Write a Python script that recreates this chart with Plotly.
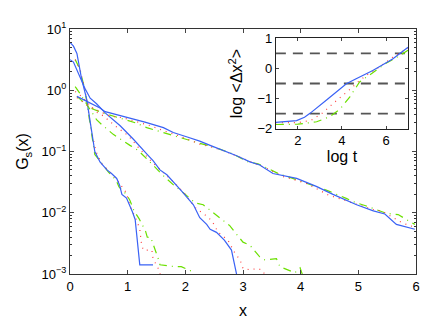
import numpy as np
import plotly.graph_objects as go

# main panel: three groups of curves, values read as log10(G_s)
# group 1 (narrowest)
g1_blue_x = [0, 0.06, 0.12, 0.2, 0.29, 0.36, 0.43, 0.52, 0.64, 0.72, 0.81, 0.86, 0.9, 0.98, 1.04, 1.08, 1.13, 1.21, 1.44]
g1_blue_lg = [0.78, 0.72, 0.6, 0.19, -0.15, -0.6, -1.0, -1.17, -1.3, -1.36, -1.44, -1.55, -1.7, -1.76, -1.88, -1.98, -2.11, -2.85, -2.85]
g1_red_x = [0.09, 0.17, 0.26, 0.32, 0.38, 0.45, 0.55, 0.72, 0.81, 0.98, 1.04, 1.16, 1.21, 1.24, 1.27, 1.42, 1.44, 1.53, 1.6]
g1_red_lg = [0.5, 0.35, 0.0, -0.32, -0.7, -1.0, -1.2, -1.36, -1.45, -1.68, -1.89, -2.13, -2.27, -2.51, -2.61, -2.61, -2.75, -2.91, -3.1]
g1_green_x = [0.09, 0.17, 0.26, 0.35, 0.38, 0.43, 0.6, 0.66, 0.8, 0.85, 0.98, 1.04, 1.11, 1.2, 1.31, 1.34, 1.4, 1.46, 1.53, 1.56, 1.82, 1.93, 2.1, 2.2]
g1_green_lg = [0.5, 0.35, 0.0, -0.58, -0.72, -1.05, -1.25, -1.33, -1.47, -1.58, -1.7, -1.8, -1.97, -2.1, -2.3, -2.4, -2.4, -2.55, -2.75, -2.85, -2.88, -2.88, -2.95, -3.1]

# group 2
g2_blue_x = [0.0, 0.06, 0.26, 0.35, 0.46, 0.61, 0.87, 1.1, 1.33, 1.44, 1.56, 1.68, 1.94, 2.14, 2.25, 2.37, 2.43, 2.54, 2.68, 2.8, 2.89, 2.95]
g2_blue_lg = [0.5, 0.46, 0.03, -0.13, -0.22, -0.37, -0.58, -0.8, -1.04, -1.15, -1.3, -1.38, -1.65, -1.87, -2.08, -2.19, -2.27, -2.32, -2.45, -2.61, -3.01, -3.3]
g2_red_x = [0.09, 0.2, 0.45, 0.58, 0.78, 0.9, 1.01, 1.2, 1.4, 1.6, 1.8, 2.0, 2.2, 2.3, 2.46, 2.57, 2.74, 2.86, 2.95, 3.0, 3.12, 3.26, 3.35, 3.45]
g2_red_lg = [-0.02, -0.1, -0.35, -0.42, -0.58, -0.66, -0.74, -0.95, -1.15, -1.33, -1.5, -1.7, -1.95, -2.0, -2.13, -2.32, -2.45, -2.66, -2.77, -2.91, -2.93, -2.91, -2.95, -3.2]
g2_green_x = [0.09, 0.17, 0.46, 0.55, 0.75, 0.87, 1.04, 1.18, 1.39, 1.47, 1.6, 1.8, 2.0, 2.17, 2.31, 2.48, 2.6, 2.77, 2.86, 3.0, 3.12, 3.29, 3.38, 3.58, 3.64, 3.9, 3.99, 4.1]
g2_green_lg = [0.06, -0.05, -0.48, -0.56, -0.72, -0.8, -0.9, -0.98, -1.17, -1.25, -1.38, -1.55, -1.7, -1.84, -1.87, -2.0, -2.08, -2.21, -2.32, -2.48, -2.53, -2.72, -2.77, -2.75, -2.88, -2.98, -2.9, -3.2]

# group 3 (widest)
g3_blue_x = [0.12, 0.35, 0.52, 0.61, 1.04, 1.3, 1.62, 1.79, 2.02, 2.25, 2.43, 2.6, 2.89, 3.12, 3.29, 3.52, 3.93, 4.27, 4.56, 4.97, 5.26, 5.46, 5.66, 5.98]
g3_blue_lg = [-0.1, -0.21, -0.29, -0.35, -0.45, -0.52, -0.61, -0.69, -0.76, -0.83, -0.9, -0.96, -1.07, -1.17, -1.22, -1.36, -1.44, -1.57, -1.7, -1.87, -1.97, -2.02, -2.19, -2.27]
g3_red_x = [0.12, 0.29, 0.46, 0.69, 0.92, 1.1, 1.4, 1.62, 1.91, 2.25, 2.43, 2.7, 3.0, 3.35, 3.7, 4.1, 4.48, 4.74, 4.99, 5.26, 5.4, 5.63, 5.75, 5.89, 6.0]
g3_red_lg = [-0.12, -0.24, -0.32, -0.42, -0.45, -0.5, -0.58, -0.66, -0.75, -0.88, -0.92, -1.0, -1.12, -1.25, -1.41, -1.52, -1.71, -1.79, -1.87, -1.95, -1.97, -2.1, -2.16, -2.21, -2.24]
g3_green_x = [0.12, 0.26, 0.35, 0.6, 0.95, 1.13, 1.33, 1.47, 1.68, 1.85, 2.02, 2.19, 2.5, 2.8, 3.09, 3.26, 3.44, 3.61, 3.9, 4.2, 4.5, 4.8, 4.97, 5.14, 5.31, 5.49, 5.69, 5.86, 5.98]
g3_green_lg = [-0.1, -0.21, -0.29, -0.38, -0.48, -0.53, -0.61, -0.65, -0.71, -0.76, -0.81, -0.85, -0.93, -1.03, -1.17, -1.2, -1.28, -1.36, -1.45, -1.55, -1.65, -1.77, -1.84, -1.89, -1.95, -2.01, -2.03, -2.13, -2.19]

# inset: log <dx^2> vs log t
in_blue_x = [1.0, 1.94, 2.3, 2.55, 3.3, 3.8, 4.2, 4.6, 5.0, 5.4, 6.3, 7.0]
in_blue_y = [-1.79, -1.73, -1.62, -1.49, -1.05, -0.75, -0.51, -0.36, -0.22, -0.07, 0.31, 0.7]
in_red_x = [1.0, 2.0, 2.6, 3.1, 3.65, 4.0, 4.4, 4.8, 5.2, 5.7, 6.3, 7.0]
in_red_y = [-1.8, -1.8, -1.72, -1.49, -1.13, -0.92, -0.67, -0.4, -0.18, 0.05, 0.37, 0.67]
in_green_x = [1.0, 2.0, 2.85, 3.45, 3.9, 4.35, 4.8, 5.4, 6.0, 6.6, 7.0]
in_green_y = [-1.86, -1.85, -1.77, -1.6, -1.36, -0.95, -0.45, -0.13, 0.17, 0.42, 0.6]
in_levels = [0.5, -0.5, -1.5]

BLUE = "#3a62f5"
RED = "#ff4040"
GREEN = "#6be000"
FONT = "Liberation Sans, Arial, sans-serif"

fig = go.Figure()

groups = [
    (g1_blue_x, g1_blue_lg, g1_red_x, g1_red_lg, g1_green_x, g1_green_lg),
    (g2_blue_x, g2_blue_lg, g2_red_x, g2_red_lg, g2_green_x, g2_green_lg),
    (g3_blue_x, g3_blue_lg, g3_red_x, g3_red_lg, g3_green_x, g3_green_lg),
]
for bx, blg, rx, rlg, gx, glg in groups:
    fig.add_trace(go.Scatter(x=gx, y=10 ** np.array(glg), mode="lines",
                             line=dict(color=GREEN, width=1.2, dash="8px,5px,1px,5px")))
    fig.add_trace(go.Scatter(x=rx, y=10 ** np.array(rlg), mode="lines",
                             line=dict(color=RED, width=1.2, dash="1px,5px")))
    fig.add_trace(go.Scatter(x=bx, y=10 ** np.array(blg), mode="lines",
                             line=dict(color=BLUE, width=1.2)))

# inset
for lv in in_levels:
    fig.add_trace(go.Scatter(x=[1, 7], y=[lv, lv], mode="lines", xaxis="x2", yaxis="y2",
                             line=dict(color="#555555", width=1.8, dash="10px,7px")))
fig.add_trace(go.Scatter(x=in_green_x, y=in_green_y, mode="lines", xaxis="x2", yaxis="y2",
                         line=dict(color=GREEN, width=1.2, dash="8px,5px,1px,5px")))
fig.add_trace(go.Scatter(x=in_red_x, y=in_red_y, mode="lines", xaxis="x2", yaxis="y2",
                         line=dict(color=RED, width=1.2, dash="1px,5px")))
fig.add_trace(go.Scatter(x=in_blue_x, y=in_blue_y, mode="lines", xaxis="x2", yaxis="y2",
                         line=dict(color=BLUE, width=1.2)))

ytick_vals = [1e-3, 1e-2, 1e-1, 1, 10]
ytick_text = ["10<sup>−3</sup>", "10<sup>−2</sup>", "10<sup>−1</sup>", "10<sup>0</sup>", "10<sup>1</sup>"]

fig.update_layout(
    width=436, height=329,
    margin=dict(l=62, r=28, t=17, b=63),
    paper_bgcolor="white", plot_bgcolor="white",
    showlegend=False,
    font=dict(family=FONT, size=13, color="black"),
    xaxis=dict(range=[0, 6], tickvals=[0, 1, 2, 3, 4, 5, 6], ticks="inside", ticklen=4,
               showline=True, linecolor="#333", linewidth=1.2, mirror="ticks",
               showgrid=False, zeroline=False,
               title=dict(text="x", standoff=12)),
    yaxis=dict(type="log", range=[-3, 1], tickvals=ytick_vals, ticktext=ytick_text,
               ticks="inside", ticklen=4, showline=True, linecolor="#333", linewidth=1.2,
               mirror="ticks", showgrid=False, zeroline=False,
               minor=dict(ticks="inside", ticklen=2, dtick="D1", tickcolor="#333", showgrid=False),
               title=dict(text="G<sub>s</sub>(x)", standoff=8)),
    xaxis2=dict(domain=[0.595, 0.977], anchor="y2", range=[1, 7], tickvals=[2, 4, 6],
                ticks="inside", ticklen=3, showline=True, linecolor="#222", linewidth=1,
                mirror="ticks", showgrid=False, zeroline=False,
                title=dict(text="log t", standoff=2)),
    yaxis2=dict(domain=[0.593, 0.962], anchor="x2", range=[-2, 1], tickvals=[-2, -1, 0, 1],
                ticktext=["−2", "−1", "0", "1"],
                ticks="inside", ticklen=3, showline=True, linecolor="#222", linewidth=1,
                mirror="ticks", showgrid=False, zeroline=False,
                title=dict(text="log <Δx<sup>2</sup>>", standoff=10)),
)

fig.write_html("out.html")
